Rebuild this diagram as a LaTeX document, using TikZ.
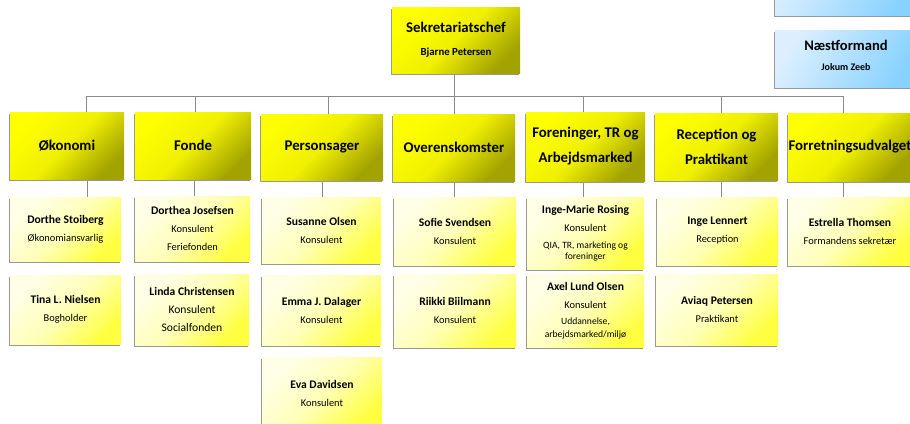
\documentclass[tikz,border=0pt]{standalone}
\usepackage{fontspec}
\setmainfont{Carlito}
\usetikzlibrary{shadows,backgrounds}
\definecolor{dtop}{HTML}{FFFF00}
\definecolor{dmid}{HTML}{F0F000}
\definecolor{dbot}{HTML}{A2A200}
\definecolor{stfA}{HTML}{FFFFE8}
\definecolor{stfB}{HTML}{FFFFB8}
\definecolor{stfC}{HTML}{FFFF40}
\definecolor{blA}{HTML}{DDEFFF}
\definecolor{blB}{HTML}{88D2FF}
\definecolor{connc}{HTML}{8A8A8A}
\tikzset{
  boxshadow/.style={general shadow={fill=black!40, shadow xshift=-1.5pt, shadow yshift=-2pt}},
  dept/.style={rectangle, inner sep=0pt, boxshadow, top color=dtop, bottom color=dbot, middle color=dmid, shading angle=45,
    font=\bfseries\fontsize{14.8}{25}\selectfont, align=center},
  chefbox/.style={dept, font=\bfseries\fontsize{14.8}{23}\selectfont},
  bluebox/.style={rectangle, inner sep=0pt, boxshadow, top color=blA, bottom color=blB, shading angle=60,
    font=\bfseries\fontsize{14.6}{20}\selectfont, align=center},
  staff/.style={rectangle, inner sep=0pt, boxshadow, top color=stfA, bottom color=stfC, middle color=stfB, shading angle=45,
    font=\fontsize{10.4}{18}\selectfont, align=center},
  conn/.style={draw=connc, line width=0.9pt},
  txt/.style={inner sep=0pt, align=center},
}
\newcommand{\nm}[1]{{\bfseries\fontsize{11.6}{18}\selectfont #1}}
\newcommand{\sm}[1]{{\fontsize{9.6}{11}\selectfont #1}}
\begin{document}
\begin{tikzpicture}[x=1pt,y=-1pt]
\useasboundingbox (0,0) rectangle (910,423);
% top boxes
\node[bluebox, minimum width=142pt, minimum height=65pt] (topblue) at (846,-17.5) {};
\node[bluebox, minimum width=142pt, minimum height=57pt] (nf) at (846,58.5) {};
\node[txt, font=\bfseries\fontsize{14.6}{20}\selectfont] (nft) at ([yshift=3pt]nf.center) {Næstformand\\{\fontsize{10}{20}\selectfont Jokum Zeeb}};
\node[chefbox, minimum width=128pt, minimum height=66pt] (chef) at (456,40) {Sekretariatschef\\{\fontsize{10.8}{23}\selectfont Bjarne Petersen}};
% departments
\node[dept, minimum width=114pt, minimum height=67pt] (oko) at (67,145.5) {Økonomi};
\node[dept, minimum width=116pt, minimum height=67pt] (fon) at (193,145.5) {Fonde};
\node[dept, minimum width=122pt, minimum height=66pt] (per) at (322,147) {Personsager};
\node[dept, minimum width=122pt, minimum height=67pt] (ove) at (454,147.5) {Overenskomster};
\node[dept, minimum width=119pt, minimum height=69pt] (for) at (585.5,146.5) {Foreninger, TR og\\Arbejdsmarked};
\node[dept, minimum width=123pt, minimum height=67pt] (rec) at (716.5,146.5) {Reception og\\Praktikant};
\node[dept, minimum width=124pt, minimum height=68pt] (frf) at (850,147) {Forretningsudvalget};
% staff
\node[staff, minimum width=111pt, minimum height=64pt] (dst) at (65.5,229) {\nm{Dorthe Stoiberg}\\Økonomiansvarlig};
\node[staff, minimum width=111pt, minimum height=69pt] (tin) at (65.5,309.5) {\nm{Tina L. Nielsen}\\Bogholder};
\node[staff, minimum width=115pt, minimum height=65pt] (dje) at (192.5,228.5) {\nm{Dorthea Josefsen}\\Konsulent\\Feriefonden};
\node[staff, minimum width=114pt, minimum height=71pt] (lin) at (192,309.5) {\nm{Linda Christensen}\\{\fontsize{11.6}{18}\selectfont Konsulent}\\{\fontsize{11.6}{18}\selectfont Socialfonden}};
\node[staff, minimum width=119pt, minimum height=66pt] (sus) at (321.5,230) {\nm{Susanne Olsen}\\Konsulent};
\node[staff, minimum width=119pt, minimum height=70pt] (emm) at (321.5,310) {\nm{Emma J. Dalager}\\Konsulent};
\node[staff, minimum width=120pt, minimum height=73pt] (eva) at (322,393.5) {\nm{Eva Davidsen}\\Konsulent};
\node[staff, minimum width=122pt, minimum height=68pt] (sof) at (455,231) {\nm{Sofie Svendsen}\\Konsulent};
\node[staff, minimum width=122pt, minimum height=73pt] (rii) at (455,310.5) {\nm{Riikki Biilmann}\\Konsulent};
\node[staff, minimum width=117pt, minimum height=72pt] (ing) at (585.5,233) {\nm{Inge-Marie Rosing}\\Konsulent\\[-1pt]\sm{QIA, TR, marketing og}\\[-7pt]\sm{foreninger}};
\node[staff, minimum width=117pt, minimum height=73pt] (axe) at (585.5,310.5) {\nm{Axel Lund Olsen}\\Konsulent\\[-2pt]\sm{Uddannelse,}\\[-5pt]\sm{arbejdsmarked/miljø}};
\node[staff, minimum width=121pt, minimum height=68pt] (inl) at (717.5,231) {\nm{Inge Lennert}\\Reception};
\node[staff, minimum width=122pt, minimum height=71pt] (avi) at (717,309.5) {\nm{Aviaq Petersen}\\Praktikant};
\node[staff, minimum width=124pt, minimum height=68pt] (est) at (850,231) {\nm{Estrella Thomsen}\\Formandens sekretær};
% connectors
\coordinate (b1) at (86,96);
\coordinate (b2) at (195,96);
\coordinate (b3) at (328,96);
\coordinate (b4) at (454,96);
\coordinate (b5) at (583,96);
\coordinate (b6) at (721,96);
\coordinate (b7) at (843,96);
\coordinate (l1) at (87,190);
\coordinate (l2) at (194,190);
\coordinate (l3) at (322,190);
\coordinate (l4) at (454,190);
\coordinate (l5) at (583,190);
\coordinate (l6) at (721,190);
\coordinate (l7) at (843,190);
\begin{scope}[on background layer]
\draw[conn] (b1) -- (b7);
\draw[conn] (chef.south -| b4) -- (b4);
\draw[conn] (b1) -- (oko.north -| b1);
\draw[conn] (b2) -- (fon.north -| b2);
\draw[conn] (b3) -- (per.north -| b3);
\draw[conn] (b4) -- (ove.north -| b4);
\draw[conn] (b5) -- (for.north -| b5);
\draw[conn] (b6) -- (rec.north -| b6);
\draw[conn] (b7) -- (frf.north -| b7);
\draw[conn] (oko.south -| l1) -- (dst.north -| l1);
\draw[conn] (fon.south -| l2) -- (dje.north -| l2);
\draw[conn] (per.south -| l3) -- (sus.north -| l3);
\draw[conn] (ove.south -| l4) -- (sof.north -| l4);
\draw[conn] (for.south -| l5) -- (ing.north -| l5);
\draw[conn] (rec.south -| l6) -- (inl.north -| l6);
\draw[conn] (frf.south -| l7) -- (est.north -| l7);
\end{scope}
\end{tikzpicture}
\end{document}
